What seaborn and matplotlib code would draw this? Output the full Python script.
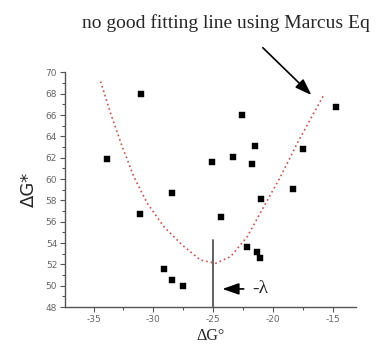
import numpy as np
import pandas as pd
import matplotlib
matplotlib.use("Agg")
import matplotlib.pyplot as plt
from matplotlib.ticker import MultipleLocator
import seaborn as sns

# measured points (dG0, dG*)
dG0 = [-31.0, -33.9, -28.4, -31.1, -29.1, -28.45, -27.5,
       -14.75, -22.6, -21.5, -17.45, -23.3, -25.1, -21.7,
       -18.35, -21.0, -24.3, -22.2, -21.3, -21.05]
dGstar = [68.0, 61.9, 58.7, 56.7, 51.6, 50.5, 50.0,
          66.8, 66.0, 63.1, 62.8, 62.1, 61.6, 61.4,
          59.1, 58.1, 56.4, 53.6, 53.2, 52.6]

# Marcus curve
curve_x = [-34.41, -33.58, -32.60, -31.63, -30.51, -29.12, -27.58, -26.05,
           -24.79, -23.54, -22.14, -20.75, -19.35, -17.95, -16.57, -15.67]
curve_y = [69.15, 66.19, 63.05, 60.23, 57.74, 55.54, 53.82, 52.41,
           52.10, 52.72, 54.60, 57.42, 60.23, 63.37, 66.19, 68.0]

lam = -25
lam_top = 54.3

pts = pd.DataFrame({"x": dG0, "y": dGstar})
curve = pd.DataFrame({"x": curve_x, "y": curve_y})

sns.set_style("ticks")
plt.rcParams['font.family'] = ['DejaVu Sans']
plt.rcParams['axes.unicode_minus'] = False

fig = plt.figure(figsize=(3.77, 3.45), dpi=100)
ax = fig.add_axes([0.172, 0.110, 0.7735, 0.680])

sns.lineplot(data=curve, x="x", y="y", sort=False, ax=ax, color="#c8504a",
             linestyle=(0, (1.0, 1.8)), linewidth=1.2)
sns.scatterplot(data=pts, x="x", y="y", ax=ax, marker="s", s=22,
                color="black", edgecolor="black", linewidth=0.3, zorder=3)

ax.plot([lam, lam], [48, lam_top], color="#555555", linewidth=1.3)

ax.set_xlim(-37.4, -13.0)
ax.set_ylim(48, 70)
ax.xaxis.set_major_locator(MultipleLocator(5))
ax.xaxis.set_minor_locator(MultipleLocator(2.5))
ax.yaxis.set_major_locator(MultipleLocator(2))
ax.yaxis.set_minor_locator(MultipleLocator(1))
ax.tick_params(which="major", length=3.5, width=0.8, labelsize=6.5,
               colors="#555555", labelcolor="#666666", pad=2)
ax.tick_params(which="minor", length=2, width=0.8, colors="#555555")
sns.despine(ax=ax)
for s in ["left", "bottom"]:
    ax.spines[s].set_color("#555555")
    ax.spines[s].set_linewidth(1.0)

ax.set_xlabel("ΔG°", family="Liberation Serif", fontsize=11.5, labelpad=3)
ax.set_ylabel("ΔG*", fontsize=13, labelpad=6)

ax.annotate("", xy=(-24.45, 49.7), xytext=(-22.2, 49.7),
            arrowprops=dict(arrowstyle="-|>,head_length=1.0,head_width=0.35",
                            color="black", lw=1.2))
ax.text(-21.75, 49.75, "-λ", family="Liberation Serif", fontsize=14,
        va="center", ha="left")

fig.text(0.60, 0.933, "no good fitting line using Marcus Eq",
         family="Liberation Serif", fontsize=14, ha="center", va="center")
ax.annotate("", xy=(-16.6, 67.7), xytext=(-21.0, 72.5),
            annotation_clip=False,
            arrowprops=dict(arrowstyle="-|>,head_length=1.0,head_width=0.35",
                            color="black", lw=1.2))

fig.savefig("out.png", dpi=100)
